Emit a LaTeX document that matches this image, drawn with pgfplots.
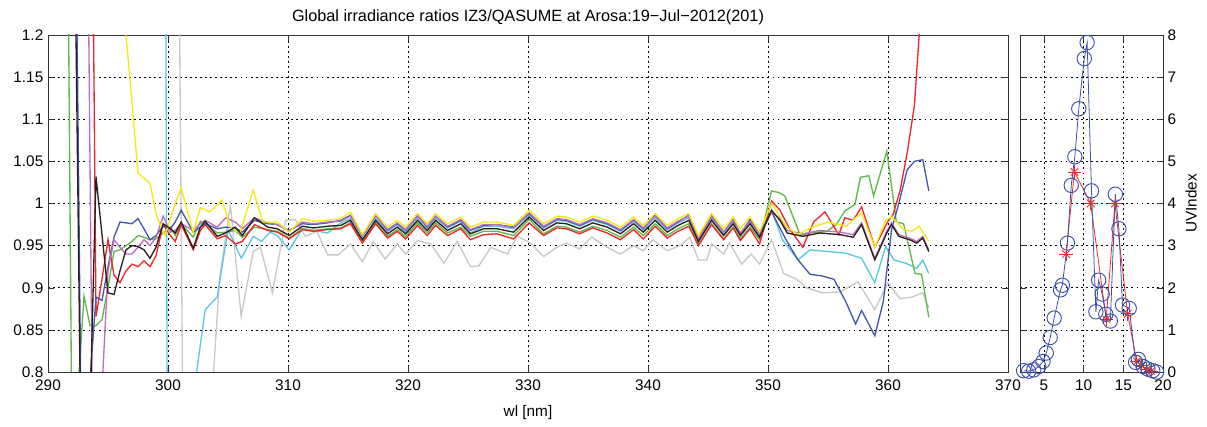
\documentclass[border=0pt]{standalone}
\usepackage{fontspec}
\setmainfont{Liberation Sans}
\usepackage{pgfplots}
\pgfplotsset{compat=1.18}

\definecolor{cgreen}{RGB}{96,184,72}
\definecolor{cblue}{RGB}{70,88,172}
\definecolor{cblack}{RGB}{45,30,30}
\definecolor{cpurple}{RGB}{190,110,190}
\definecolor{cred}{RGB}{238,40,40}
\definecolor{cyellow}{RGB}{245,232,20}
\definecolor{ccyan}{RGB}{90,200,225}
\definecolor{cgray}{RGB}{200,200,200}
\definecolor{uvblue}{RGB}{60,80,170}

\pgfplotsset{
  mat/.style={
    scale only axis,
    anchor=south west,
    height=252.75pt,
    axis line style={black!80},
    tick align=inside,
    major tick length=4.5pt,
    tick style={black!80},
    grid=major,
    major grid style={black, line width=0.45pt, dash pattern=on 1.4pt off 2.4pt},
    tick label style={font=\fontsize{11.5}{13}\selectfont},
    label style={font=\fontsize{11.5}{13}\selectfont},
    xticklabel style={yshift=-2.5pt},
    /pgf/number format/assume math mode=true,
  },
  every axis plot/.append style={line width=1pt},
}

\begin{document}
\begin{tikzpicture}
\path[use as bounding box] (0,0) rectangle (905.25pt,319.5pt);

% ratios
\begin{axis}[mat,
  at={(36pt,40.5pt)}, width=720pt,
  xmin=290, xmax=370, ymin=0.8, ymax=1.2,
  xtick={290,300,...,370},
  ytick={0.8,0.85,0.9,0.95,1,1.05,1.1,1.15,1.2},
  xlabel={wl [nm]},
  xlabel style={yshift=-4pt},
  title={Global irradiance ratios IZ3/QASUME at Arosa:19−Jul−2012(201)},
  title style={font=\fontsize{12.2}{14}\selectfont, yshift=-2pt},
]
% gray
\addplot[cgray, mark=none] coordinates {
(300.5,2.0)(301.5,0.3)(302.5,0.5)(303.0,0.7)(303.8,0.8)(304.3,0.911)(305.2,0.998)(306.1,0.866)(307.1,0.943)(307.7,0.948)(308.7,0.894)(309.8,0.980)(310.6,0.981)(311.45,0.961)(312.4,0.967)(313.3,0.939)(314.2,0.939)(315.2,0.952)(316.2,0.931)(317.1,0.955)(318.1,0.934)(319.1,0.952)(319.8,0.940)(320.8,0.956)(321.9,0.952)(323.0,0.929)(324.1,0.955)(325.2,0.925)(325.9,0.926)(326.9,0.948)(328.3,0.940)(329.1,0.961)(330.2,0.953)(331.3,0.937)(332.4,0.948)(333.2,0.953)(334.3,0.946)(335.3,0.960)(336.6,0.948)(337.7,0.940)(338.8,0.950)(339.6,0.944)(340.4,0.957)(341.6,0.944)(342.7,0.950)(343.5,0.960)(344.2,0.933)(344.9,0.933)(345.3,0.952)(346.3,0.940)(346.8,0.953)(347.8,0.928)(348.6,0.940)(349.3,0.928)(350.3,0.957)(351.3,0.917)(352.4,0.910)(353.2,0.900)(354.5,0.894)(356.0,0.895)(357.5,0.907)(358.9,0.874)(360.0,0.906)(361.0,0.887)(362.0,0.889)(362.9,0.894)(363.4,0.876)
};
% cyan
\addplot[ccyan, mark=none] coordinates {
(299.5,2.5)(300.0,0.5)(301.0,0.6)(302.0,0.76)(303.1,0.874)(304.1,0.889)(305.0,0.969)(306.1,0.935)(307.1,0.961)(307.8,0.955)(308.5,0.966)(309.1,0.962)(310.1,0.945)(311.2,0.970)(312.1,0.968)(313.3,0.965)(314.4,0.977)(315.2,0.982)(316.2,0.955)(317.3,0.982)(318.3,0.967)(319.1,0.975)(319.8,0.966)(320.8,0.983)(321.6,0.971)(322.3,0.983)(323.3,0.971)(324.4,0.979)(325.2,0.965)(326.3,0.973)(327.4,0.973)(328.8,0.970)(330.1,0.987)(331.3,0.971)(332.4,0.980)(333.2,0.979)(334.3,0.973)(335.4,0.980)(336.6,0.975)(337.7,0.967)(338.8,0.979)(339.6,0.969)(340.6,0.983)(341.6,0.969)(342.5,0.977)(343.4,0.983)(344.2,0.953)(345.3,0.982)(346.3,0.963)(347.1,0.978)(347.7,0.962)(348.5,0.978)(349.3,0.958)(350.3,0.992)(351.2,0.957)(352.5,0.933)(353.5,0.945)(355.0,0.943)(356.5,0.941)(357.8,0.935)(358.9,0.906)(359.8,0.949)(360.5,0.933)(361.5,0.929)(362.4,0.923)(362.9,0.933)(363.4,0.917)
};
% green
\addplot[cgreen, mark=none] coordinates {
(291.5,1.6)(292.0,0.7)(292.5,0.78)(293.0,0.89)(293.5,0.855)(294.0,0.855)(294.5,0.862)(295.0,0.90)(295.5,0.943)(296.0,0.945)(296.5,0.95)(297.0,0.955)(297.5,0.962)(298.0,0.96)(298.5,0.957)(299.0,0.958)(299.6,0.965)(300.2,0.972)(300.6,0.962)(301.1,0.976)(302.1,0.960)(302.7,0.979)(303.1,0.976)(304.1,0.965)(304.8,0.966)(305.6,0.968)(306.2,0.960)(307.2,0.972)(308.3,0.969)(309.1,0.967)(310.1,0.959)(311.2,0.970)(312.1,0.968)(313.3,0.970)(314.4,0.971)(315.2,0.977)(316.2,0.954)(317.3,0.977)(318.3,0.961)(319.1,0.969)(319.8,0.961)(320.8,0.977)(321.6,0.965)(322.3,0.977)(323.3,0.965)(324.4,0.972)(325.2,0.961)(326.3,0.967)(327.4,0.967)(328.8,0.962)(330.1,0.981)(331.3,0.964)(332.4,0.973)(333.2,0.972)(334.3,0.966)(335.4,0.973)(336.6,0.968)(337.7,0.960)(338.8,0.972)(339.6,0.962)(340.6,0.976)(341.6,0.962)(342.5,0.970)(343.4,0.976)(344.2,0.950)(345.3,0.976)(346.3,0.958)(347.1,0.972)(347.7,0.958)(348.5,0.972)(349.3,0.957)(350.3,1.015)(350.9,1.013)(351.4,1.009)(352.7,0.962)(353.5,0.965)(354.9,0.967)(355.7,0.975)(356.4,0.991)(357.25,0.999)(357.7,1.031)(358.4,1.033)(358.8,1.009)(359.9,1.062)(360.7,0.978)(361.3,0.976)(362.25,0.917)(362.8,0.916)(363.4,0.865)
};
% red
\addplot[cred, mark=none] coordinates {
(290.0,1.9)(293.5,1.7)(294.0,0.866)(294.5,0.91)(295.0,0.957)(295.5,0.915)(296.0,0.906)(296.5,0.92)(297.0,0.928)(297.5,0.925)(298.0,0.932)(298.5,0.925)(299.0,0.938)(299.6,0.975)(300.2,0.962)(300.6,0.955)(301.1,0.975)(302.1,0.945)(302.7,0.968)(303.1,0.975)(304.1,0.958)(304.8,0.962)(305.6,0.952)(306.2,0.955)(307.2,0.975)(308.3,0.968)(309.1,0.966)(310.1,0.958)(311.2,0.969)(312.1,0.967)(313.3,0.969)(314.4,0.970)(315.2,0.976)(316.2,0.953)(317.3,0.976)(318.3,0.959)(319.1,0.967)(319.8,0.958)(320.8,0.974)(321.6,0.962)(322.3,0.974)(323.3,0.962)(324.4,0.970)(325.2,0.957)(326.3,0.963)(327.4,0.964)(328.8,0.958)(330.1,0.977)(331.3,0.962)(332.4,0.971)(333.2,0.970)(334.3,0.964)(335.4,0.971)(336.6,0.965)(337.7,0.957)(338.8,0.969)(339.6,0.958)(340.6,0.973)(341.6,0.959)(342.5,0.967)(343.4,0.973)(344.2,0.950)(345.3,0.975)(346.3,0.957)(347.1,0.971)(347.7,0.956)(348.5,0.970)(349.3,0.952)(350.3,1.003)(351.0,0.992)(351.8,0.970)(352.9,0.948)(353.8,0.978)(354.75,0.990)(355.9,0.963)(356.4,0.983)(357.1,0.980)(357.8,0.996)(358.9,0.948)(360.0,0.979)(360.4,0.986)(361.0,1.015)(361.6,1.06)(362.2,1.116)(362.6,1.2)(363.0,1.28)
};
% blue
\addplot[cblue, mark=none] coordinates {
(292.0,1.8)(293.0,0.4)(293.5,0.79)(294.0,0.889)(294.5,0.885)(295.0,0.925)(295.5,0.96)(296.0,0.978)(296.5,0.977)(297.0,0.976)(297.5,0.982)(298.0,0.97)(298.5,0.957)(299.0,0.962)(299.6,0.973)(300.2,0.970)(300.6,0.978)(301.1,0.992)(302.1,0.966)(302.7,0.972)(303.1,0.976)(304.1,0.970)(304.8,0.972)(305.6,0.971)(306.2,0.966)(307.2,0.980)(308.3,0.976)(309.1,0.975)(310.1,0.968)(311.2,0.976)(312.1,0.975)(313.3,0.977)(314.4,0.980)(315.2,0.986)(316.2,0.961)(317.3,0.986)(318.3,0.968)(319.1,0.976)(319.8,0.968)(320.8,0.986)(321.6,0.972)(322.3,0.985)(323.3,0.972)(324.4,0.980)(325.2,0.968)(326.3,0.974)(327.4,0.975)(328.8,0.972)(330.1,0.988)(331.3,0.972)(332.4,0.981)(333.2,0.980)(334.3,0.974)(335.4,0.981)(336.6,0.976)(337.7,0.968)(338.8,0.980)(339.6,0.970)(340.6,0.986)(341.6,0.970)(342.5,0.978)(343.4,0.986)(344.2,0.958)(345.3,0.985)(346.3,0.966)(347.1,0.981)(347.7,0.964)(348.5,0.981)(349.3,0.963)(350.3,0.990)(351.5,0.957)(352.5,0.933)(353.5,0.916)(354.5,0.914)(355.5,0.910)(356.5,0.883)(357.3,0.857)(357.8,0.873)(358.9,0.843)(359.6,0.883)(360.3,0.969)(360.9,1.0)(361.6,1.04)(362.2,1.05)(362.9,1.052)(363.4,1.015)
};
% purple
\addplot[cpurple, mark=none] coordinates {
(293.0,1.8)(294.0,0.3)(294.5,0.78)(295.0,0.92)(295.5,0.957)(296.0,0.948)(296.5,0.94)(297.0,0.94)(297.5,0.948)(298.0,0.957)(298.5,0.95)(299.0,0.96)(299.6,0.985)(300.2,0.966)(300.6,0.968)(301.1,0.976)(302.1,0.968)(302.7,0.976)(303.1,0.980)(304.1,0.972)(304.8,0.983)(305.6,0.978)(306.2,0.970)(307.2,0.983)(308.3,0.977)(309.1,0.975)(310.1,0.967)(311.2,0.978)(312.1,0.976)(313.3,0.978)(314.4,0.979)(315.2,0.985)(316.2,0.962)(317.3,0.985)(318.3,0.969)(319.1,0.977)(319.8,0.969)(320.8,0.985)(321.6,0.973)(322.3,0.985)(323.3,0.973)(324.4,0.981)(325.2,0.969)(326.3,0.975)(327.4,0.975)(328.8,0.971)(330.1,0.989)(331.3,0.973)(332.4,0.982)(333.2,0.981)(334.3,0.975)(335.4,0.982)(336.6,0.977)(337.7,0.969)(338.8,0.981)(339.6,0.971)(340.6,0.985)(341.6,0.971)(342.5,0.979)(343.4,0.985)(344.2,0.958)(345.3,0.984)(346.3,0.966)(347.1,0.980)(347.7,0.965)(348.5,0.979)(349.3,0.963)(350.3,0.990)(351.0,0.982)(351.6,0.968)(352.9,0.964)(354.3,0.968)(356.0,0.966)(357.1,0.963)(357.8,0.977)(358.9,0.935)(359.9,0.967)(360.3,0.977)(360.9,0.963)(361.8,0.959)(362.4,0.955)(362.9,0.961)(363.4,0.945)
};
% yellow
\addplot[cyellow, mark=none] coordinates {
(295.5,1.7)(296.0,1.45)(296.5,1.2)(297.0,1.12)(297.5,1.036)(298.0,1.03)(298.5,1.024)(299.05,0.985)(299.75,0.962)(300.6,1.0)(301.1,1.018)(302.1,0.966)(302.7,0.995)(303.5,0.99)(304.5,1.004)(305.2,0.972)(306.0,0.965)(307.1,1.016)(307.9,0.978)(309.1,0.978)(310.1,0.966)(311.2,0.982)(312.1,0.979)(313.3,0.980)(314.4,0.982)(315.2,0.990)(316.2,0.963)(317.3,0.988)(318.3,0.972)(319.1,0.980)(319.8,0.972)(320.8,0.988)(321.6,0.976)(322.3,0.988)(323.3,0.976)(324.4,0.984)(325.2,0.972)(326.3,0.978)(327.4,0.978)(328.8,0.974)(330.1,0.992)(331.3,0.976)(332.4,0.985)(333.2,0.984)(334.3,0.978)(335.4,0.985)(336.6,0.980)(337.7,0.972)(338.8,0.984)(339.6,0.974)(340.6,0.988)(341.6,0.974)(342.5,0.982)(343.4,0.988)(344.2,0.962)(345.3,0.988)(346.3,0.970)(347.1,0.984)(347.7,0.970)(348.5,0.984)(349.3,0.967)(350.3,1.0)(351.5,0.973)(352.5,0.963)(353.5,0.971)(355.0,0.978)(356.5,0.973)(357.8,0.989)(358.9,0.948)(359.8,0.98)(360.3,0.984)(361.3,0.969)(362.0,0.967)(362.6,0.973)(363.4,0.955)
};
% black
\addplot[cblack, mark=none] coordinates {
(292,1.6)(293,0.4)(293.5,0.75)(294,1.032)(294.5,0.963)(295,0.894)(295.5,0.892)(296,0.92)(296.5,0.945)(297,0.95)(297.5,0.949)(298,0.945)(298.5,0.935)(299,0.948)(299.6,0.976)(300.2,0.970)(300.6,0.965)(301.1,0.978)(302.1,0.947)(302.7,0.972)(303.1,0.979)(304.1,0.961)(304.8,0.965)(305.6,0.972)(306.2,0.962)(307.2,0.983)(308.3,0.972)(309.1,0.970)(310.1,0.962)(311.2,0.973)(312.1,0.971)(313.3,0.973)(314.4,0.974)(315.2,0.980)(316.2,0.957)(317.3,0.980)(318.3,0.964)(319.1,0.972)(319.8,0.964)(320.8,0.980)(321.6,0.968)(322.3,0.980)(323.3,0.968)(324.4,0.976)(325.2,0.964)(326.3,0.970)(327.4,0.970)(328.8,0.966)(330.1,0.984)(331.3,0.968)(332.4,0.977)(333.2,0.976)(334.3,0.970)(335.4,0.977)(336.6,0.972)(337.7,0.964)(338.8,0.976)(339.6,0.966)(340.6,0.980)(341.6,0.966)(342.5,0.974)(343.4,0.980)(344.2,0.955)(345.3,0.980)(346.3,0.962)(347.1,0.976)(347.7,0.962)(348.5,0.976)(349.3,0.960)(350.3,0.992)(351.0,0.980)(351.6,0.965)(352.9,0.961)(354.3,0.965)(356.0,0.963)(357.1,0.960)(357.8,0.975)(358.9,0.933)(359.9,0.965)(360.3,0.975)(360.9,0.961)(361.8,0.957)(362.4,0.953)(362.9,0.959)(363.4,0.943)
};
\end{axis}

% UV index
\begin{axis}[mat,
  at={(765pt,40.5pt)}, width=107.25pt,
  xmin=2, xmax=20, ymin=0, ymax=8,
  xtick={5,10,15,20}, ytick={0,1,...,8},
  yticklabel pos=right,
  ylabel={UVIndex},
]
\addplot[cred, line width=0.6pt, mark=+, mark size=5pt] coordinates {
(7.8,2.8)(8.85,4.75)(10.9,4.0)(12.85,1.25)(13.95,4.0)(15.55,1.38)(16.7,0.25)(17.3,0.15)(17.9,0.05)(18.5,0.02)
};
\addplot[cred, only marks, mark=x, mark size=4pt, line width=0.6pt] coordinates {
(7.8,2.8)(8.85,4.75)(10.9,4.0)(12.85,1.25)(13.95,4.0)(15.55,1.38)(16.7,0.25)(17.3,0.15)(17.9,0.05)(18.5,0.02)
};
\addplot[uvblue, line width=0.6pt, mark=o, mark size=5.4pt, mark options={line width=0.7pt}] coordinates {
(2.46,0.03)(3.09,0.02)(3.73,0.05)(4.36,0.13)(4.9,0.25)(5.3,0.45)(5.8,0.82)(6.3,1.28)(7.1,1.95)(7.33,2.06)(7.97,3.06)(8.45,4.43)(8.9,5.11)(9.4,6.25)(10.09,7.44)(10.45,7.82)(11.0,4.3)(11.55,1.43)(11.9,2.18)(12.35,1.85)(12.8,1.37)(13.37,1.21)(14.0,4.22)(14.45,3.4)(14.9,1.59)(15.75,1.51)(16.55,0.23)(16.9,0.3)(17.5,0.13)(18.1,0.07)(18.7,0.03)(19.2,0.0)
};
\end{axis}
\end{tikzpicture}
\end{document}
